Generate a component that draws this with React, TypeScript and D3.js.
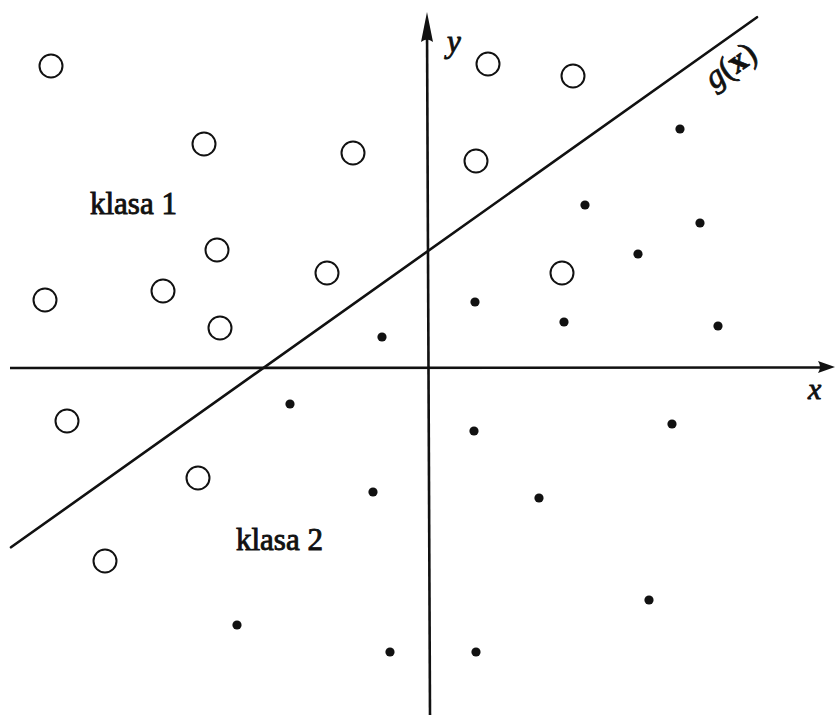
import React from "react";
import * as d3 from "d3";

// Class 1 samples (open circles), in plane coordinates
const class1X = [-3.77, 0.6, 1.45, -2.24, -0.75, 0.48, -2.11, -1.01, 1.34, -3.83, -2.65, -2.08, -3.61, -2.3, -3.23];
const class1Y = [3.02, 3.04, 2.92, 2.24, 2.15, 2.07, 1.18, 0.95, 0.95, 0.68, 0.77, 0.4, -0.53, -1.1, -1.93];

// Class 2 samples (filled dots)
const class2X = [2.52, 1.57, 2.72, 2.1, 0.47, 1.36, 2.9, -0.46, -1.38, 0.46, 2.44, -0.55, 1.11, 2.21, -1.91, -0.38, 0.48];
const class2Y = [2.39, 1.63, 1.45, 1.14, 0.66, 0.46, 0.42, 0.31, -0.36, -0.63, -0.56, -1.24, -1.3, -2.32, -2.57, -2.84, -2.84];

// Decision boundary g(x) = 0 : y = slope * x + intercept
const boundarySlope = 0.7105;
const boundaryIntercept = 1.17;
const boundaryXRange = [-4.17, 3.29];

const regionLabels = ["klasa 1", "klasa 2"];

const W = 835;
const H = 715;

export default function App() {
  const xs = d3.scaleLinear().domain([-4.18, 4.07]).range([10, 835]);
  const ys = d3.scaleLinear().domain([-3.47, 3.56]).range([715, 12]);

  const serif = "'Liberation Serif', 'DejaVu Serif', serif";
  const ink = "#111";

  const bx0 = boundaryXRange[0];
  const bx1 = boundaryXRange[1];
  const line = d3.line<[number, number]>().x((d) => xs(d[0])).y((d) => ys(d[1]));
  const boundaryPath = line([
    [bx0, boundarySlope * bx0 + boundaryIntercept],
    [bx1, boundarySlope * bx1 + boundaryIntercept],
  ]);

  const ox = xs(0);
  const oy = ys(0);
  const xEnd = xs(4.07);
  const yTop = ys(3.56);

  return (
    <svg
      width={W}
      height={H}
      style={{ position: "absolute", left: 0, top: 0, background: "#fff" }}
    >
      {/* x axis */}
      <line x1={xs(-4.18)} y1={oy} x2={xEnd - 10} y2={oy - 0.5} stroke={ink} strokeWidth={2.6} />
      <path
        d={`M${xEnd},${oy - 1} L${xEnd - 17},${oy - 7} Q${xEnd - 13},${oy - 1} ${xEnd - 17},${oy + 5} Z`}
        fill={ink}
      />
      {/* y axis */}
      <line x1={ox + 2} y1={ys(-3.47)} x2={ox - 1} y2={yTop + 12} stroke={ink} strokeWidth={2.6} />
      <path
        d={`M${ox - 1},${yTop} L${ox - 7},${yTop + 30} Q${ox - 1},${yTop + 25} ${ox + 5},${yTop + 30} Z`}
        fill={ink}
      />

      {/* decision boundary */}
      <path d={boundaryPath ?? ""} stroke={ink} strokeWidth={2.6} fill="none" strokeLinecap="round" />

      {/* class 1 */}
      {class1X.map((x, i) => (
        <circle key={"c1" + i} cx={xs(x)} cy={ys(class1Y[i])} r={11.5} fill="none" stroke={ink} strokeWidth={2} />
      ))}
      {/* class 2 */}
      {class2X.map((x, i) => (
        <circle key={"c2" + i} cx={xs(x)} cy={ys(class2Y[i])} r={4.6} fill={ink} />
      ))}

      {/* axis labels */}
      <text x={447} y={52} fontFamily={serif} fontStyle="italic" fontSize={31} fill={ink} stroke={ink} strokeWidth={0.9}>
        y
      </text>
      <text x={808} y={399} fontFamily={serif} fontStyle="italic" fontSize={30} fill={ink} stroke={ink} strokeWidth={0.9}>
        x
      </text>

      {/* boundary label */}
      <g transform="translate(714,90) rotate(-35)">
        <text x={0} y={0} fontFamily={serif} fontSize={33} fill={ink} stroke={ink} strokeWidth={0.8}>
          <tspan fontStyle="italic">g</tspan>
          <tspan>(</tspan>
          <tspan fontWeight="bold">x</tspan>
          <tspan>)</tspan>
        </text>
      </g>

      {/* region labels */}
      <text x={90} y={214} fontFamily={serif} fontSize={31} fill={ink} stroke={ink} strokeWidth={0.9}>
        {regionLabels[0]}
      </text>
      <text x={236} y={550} fontFamily={serif} fontSize={31} fill={ink} stroke={ink} strokeWidth={0.9}>
        {regionLabels[1]}
      </text>
    </svg>
  );
}
